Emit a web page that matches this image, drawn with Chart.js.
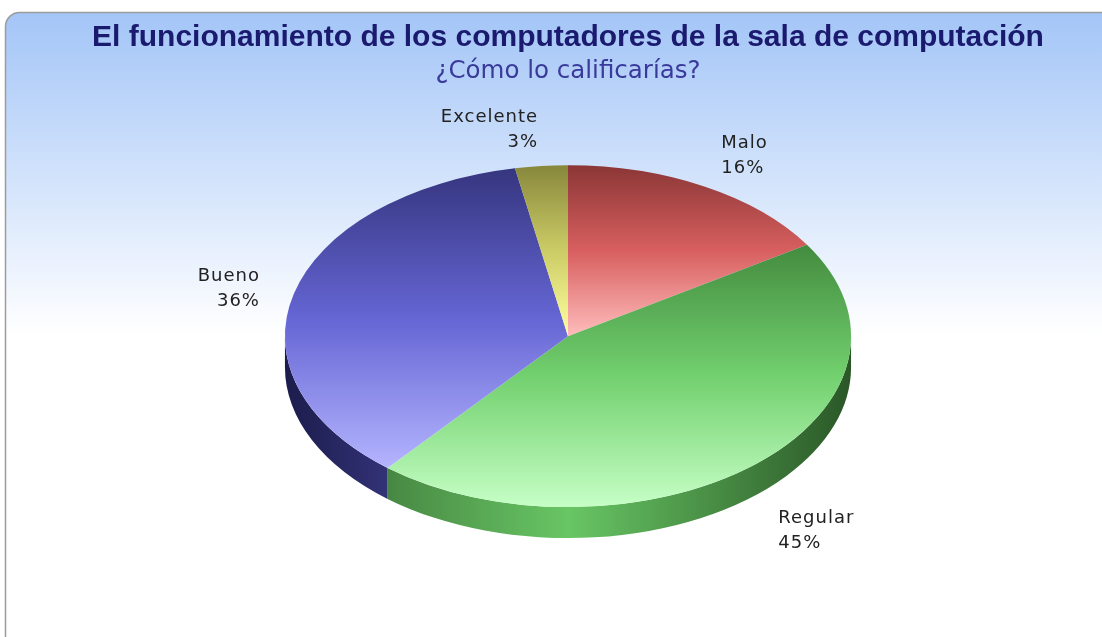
<!DOCTYPE html>
<html>
<head>
<meta charset="utf-8">
<script src="https://cdn.jsdelivr.net/npm/chart.js@4/dist/chart.umd.min.js"></script>
<style>
  html, body { margin: 0; background: #fff; }
  #wrap { width: 1102px; height: 637px; }
</style>
</head>
<body>
<div id="wrap"><canvas id="pie-chart"></canvas></div>
<script>
// data
let categories = ['Malo', 'Regular', 'Bueno', 'Excelente'];
let percents = [16, 45, 36, 3];

// colours: top face (dark -> light), side face (left edge, 20%, middle, right edge)
let topColors = [
  ['#8b3636', '#d85f5f', '#ffbcbc'],
  ['#438b3f', '#72d06e', '#c6ffc6'],
  ['#35357f', '#6565d4', '#b4b4ff'],
  ['#87873c', '#cccc66', '#ffffa0']
];
let sideColors = [
  ['#4a1c1c', '#7a3030', '#b04646', '#5a2020'],
  ['#24481f', '#4a8c46', '#68c664', '#2a5727'],
  ['#1c1c4c', '#34347c', '#5050c0', '#1c1c4c'],
  ['#4a4a1c', '#7a7a30', '#b0b046', '#5a5a20']
];

const STRETCH = 1.161;  // horizontal scale of the pie
const TILT = 0.701;     // vertical scale of the pie
const DEPTH = 31;       // height of the side wall

// rounded frame with the blue gradient behind everything
const frame = {
  id: 'frame',
  beforeDraw(chart) {
    let ctx = chart.ctx;
    ctx.save();
    let g = ctx.createLinearGradient(0, 12, 0, 335);
    g.addColorStop(0, '#a3c5f7');
    g.addColorStop(1, '#ffffff');
    ctx.beginPath();
    ctx.roundRect(5.5, 12.5, 1120, 700, 14);
    ctx.fillStyle = g;
    ctx.fill();
    ctx.strokeStyle = '#9c9c9c';
    ctx.lineWidth = 1.5;
    ctx.stroke();
    ctx.restore();
  }
};

// squash the pie into an ellipse, add the side wall and the labels
const tilt = {
  id: 'tilt',
  beforeDatasetsDraw(chart) {
    let ctx = chart.ctx;
    let arcs = chart.getDatasetMeta(0).data;
    let x = arcs[0].x, y = arcs[0].y, r = arcs[0].outerRadius;
    let rx = r * STRETCH, ry = r * TILT;

    // side wall (only the front half is visible)
    arcs.forEach(function(arc, i){
      let a = Math.max(arc.startAngle, 0);
      let b = Math.min(arc.endAngle, Math.PI);
      if (b <= a) return;
      let g = ctx.createLinearGradient(x - rx, 0, x + rx, 0);
      g.addColorStop(0, sideColors[i][0]);
      g.addColorStop(0.2, sideColors[i][1]);
      g.addColorStop(0.5, sideColors[i][2]);
      g.addColorStop(1, sideColors[i][3]);
      ctx.beginPath();
      ctx.ellipse(x, y, rx, ry, 0, a, b);
      ctx.ellipse(x, y + DEPTH, rx, ry, 0, b, a, true);
      ctx.closePath();
      ctx.fillStyle = g;
      ctx.fill();
    });

    // vertical gradient over each slice's own height
    arcs.forEach(function(arc, i){
      let ys = [y];
      for (let k = 0; k <= 40; k++) {
        let t = arc.startAngle + (arc.endAngle - arc.startAngle) * k / 40;
        ys.push(y + r * Math.sin(t));
      }
      let g = ctx.createLinearGradient(0, Math.min.apply(null, ys), 0, Math.max.apply(null, ys));
      g.addColorStop(0, topColors[i][0]);
      g.addColorStop(0.5, topColors[i][1]);
      g.addColorStop(1, topColors[i][2]);
      arc.options.backgroundColor = g;
    });

    ctx.save();
    ctx.translate(x, y);
    ctx.scale(STRETCH, TILT);
    ctx.translate(-x, -y);
  },
  afterDatasetsDraw(chart) {
    let ctx = chart.ctx;
    ctx.restore();

    let arcs = chart.getDatasetMeta(0).data;
    let x = arcs[0].x, y = arcs[0].y, r = arcs[0].outerRadius;
    let lx = r * STRETCH + 35, ly = r * TILT + 41;

    ctx.save();
    ctx.font = '18px "DejaVu Sans"';
    ctx.letterSpacing = '1px';
    ctx.fillStyle = '#222222';
    ctx.textBaseline = 'middle';
    arcs.forEach(function(arc, i){
      let t = (arc.startAngle + arc.endAngle) / 2;
      let px = x + lx * Math.cos(t);
      let py = y + ly * Math.sin(t) + 5;
      if (Math.sin(t) > 0) py += DEPTH;
      ctx.textAlign = Math.cos(t) >= 0 ? 'left' : 'right';
      ctx.fillText(categories[i], px, py - 12.5);
      ctx.fillText(percents[i] + '%', px, py + 12.5);
    });
    ctx.restore();
  }
};

let myChart = new Chart(document.getElementById('pie-chart'), {
  type: 'pie',
  data: {
    labels: categories,
    datasets: [{
      data: percents,
      backgroundColor: topColors.map(c => c[1]),
      borderWidth: 0
    }]
  },
  options: {
    responsive: true,
    maintainAspectRatio: false,
    animation: false,
    layout: {
      padding: { left: 44, right: 10, top: 0, bottom: 57 }
    },
    plugins: {
      legend: { display: false },
      tooltip: { enabled: false },
      title: {
        display: true,
        text: 'El funcionamiento de los computadores de la sala de computación',
        color: '#1a1a6e',
        font: { family: '"Liberation Sans", Arial, sans-serif', size: 30, weight: 'bold' },
        padding: { top: 20, bottom: 0 }
      },
      subtitle: {
        display: true,
        text: '¿Cómo lo calificarías?',
        color: '#3a3a9a',
        font: { family: '"DejaVu Sans", sans-serif', size: 24.5 },
        padding: { top: 1, bottom: 6 }
      }
    }
  },
  plugins: [frame, tilt]
});
</script>
</body>
</html>
